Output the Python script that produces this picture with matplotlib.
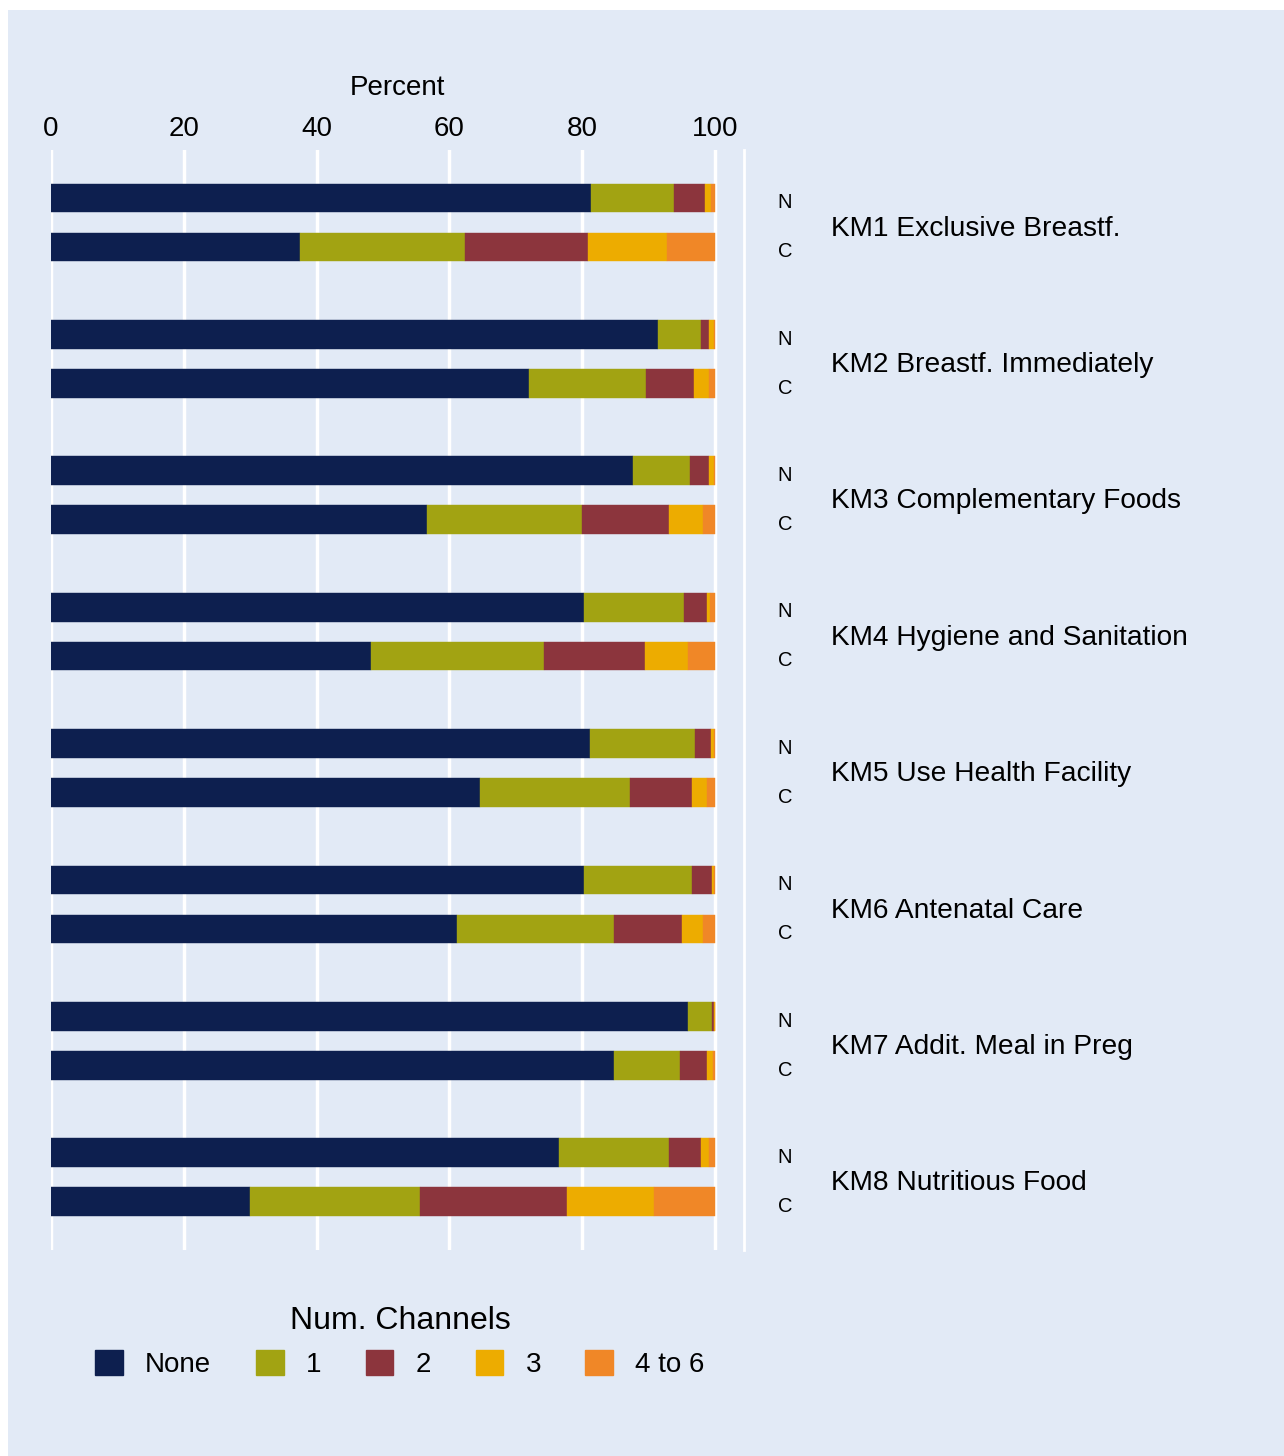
import matplotlib
matplotlib.use("Agg")
import matplotlib.pyplot as plt
from matplotlib.patches import Rectangle, Patch
from matplotlib.transforms import blended_transform_factory

plt.rcParams['font.family'] = ['Liberation Sans', 'DejaVu Sans']

measures = ["KM1 Exclusive Breastf.", "KM2 Breastf. Immediately", "KM3 Complementary Foods",
            "KM4 Hygiene and Sanitation", "KM5 Use Health Facility", "KM6 Antenatal Care",
            "KM7 Addit. Meal in Preg", "KM8 Nutritious Food"]
groups = ["N", "C"]
categories = ["None", "1", "2", "3", "4 to 6"]
colors = ["#0D1F4F", "#A2A312", "#8C353D", "#EDAC00", "#F08727"]

# Percent by number of channels, rows = measures, for N and C
none_N = [81.4, 91.4, 87.65, 80.3, 81.1, 80.3, 95.9, 76.55]
one_N = [12.5, 6.5, 8.55, 15.0, 15.9, 16.2, 3.7, 16.55]
two_N = [4.6, 1.15, 2.85, 3.45, 2.35, 3.0, 0.3, 4.8]
three_N = [0.85, 0.8, 0.8, 0.55, 0.5, 0.4, 0.05, 1.2]
four6_N = [0.65, 0.15, 0.15, 0.7, 0.15, 0.1, 0.05, 0.9]

none_C = [37.5, 72.0, 56.6, 48.2, 64.6, 61.1, 84.8, 30.0]
one_C = [24.8, 17.65, 23.4, 26.1, 22.55, 23.7, 10.0, 25.5]
two_C = [18.6, 7.15, 13.1, 15.1, 9.35, 10.3, 3.95, 22.2]
three_C = [11.9, 2.25, 5.1, 6.5, 2.3, 3.1, 0.9, 13.1]
four6_C = [7.2, 0.95, 1.8, 4.1, 1.2, 1.8, 0.35, 9.2]

xticks = [0, 20, 40, 60, 80, 100]

W, H = 1284, 1456
bg = "#E2EAF6"
fig = plt.figure(figsize=(W / 100, H / 100), dpi=100)
fig.patch.set_facecolor("white")
fig.patches.append(Rectangle((8 / W, 0), 1 - 8 / W, 1 - 10 / H, transform=fig.transFigure,
                             facecolor=bg, edgecolor="none", zorder=-10))

ax = fig.add_axes([51 / W, 1 - 1250 / H, (744 - 51) / W, (1250 - 150) / H])
ax.set_facecolor(bg)

offset = 0.359
height = 0.21
series_N = [none_N, one_N, two_N, three_N, four6_N]
series_C = [none_C, one_C, two_C, three_C, four6_C]
pos_N = [i for i in range(len(measures))]
pos_C = [i + offset for i in range(len(measures))]

for pos, series in [(pos_N, series_N), (pos_C, series_C)]:
    left = [0.0] * len(measures)
    for vals, col in zip(series, colors):
        ax.barh(pos, vals, left=left, height=height, color=col, edgecolor=col,
                linewidth=0.3, zorder=3)
        left = [l + v for l, v in zip(left, vals)]

ax.set_xlim(0, (744 - 51) / 6.64)
ax.set_ylim(7.713, -0.352)
ax.set_xticks(xticks)
ax.set_xticklabels([str(t) for t in xticks], fontsize=20)
ax.xaxis.tick_top()
ax.xaxis.set_label_position("top")
ax.tick_params(axis="x", length=0, pad=5.5)
ax.set_xlabel("Percent", fontsize=20, labelpad=15.5)
ax.set_yticks([])
ax.grid(axis="x", color="white", linewidth=2.5, zorder=1)
for s in ["top", "bottom", "left"]:
    ax.spines[s].set_visible(False)
ax.spines["right"].set_color("white")
ax.spines["right"].set_linewidth(2)

tr = blended_transform_factory(fig.transFigure, ax.transData)
for i, m in enumerate(measures):
    ax.text(785 / W, pos_N[i] + 0.035, groups[0], transform=tr, ha="center", va="center", fontsize=14.5)
    ax.text(785 / W, pos_C[i] + 0.035, groups[1], transform=tr, ha="center", va="center", fontsize=14.5)
    ax.text(831 / W, (pos_N[i] + pos_C[i]) / 2 + 0.045, m, transform=tr, ha="left", va="center",
            fontsize=20.25)

handles = [Patch(facecolor=c, edgecolor=c) for c in colors]
leg = fig.legend(handles, categories, loc="center", bbox_to_anchor=(400 / W, 1 - 1342 / H),
                 ncol=5, frameon=False, fontsize=20, title="Num. Channels",
                 title_fontsize=23, handlelength=1.0, handleheight=1.0,
                 handletextpad=0.8, columnspacing=1.6)

fig.savefig("out.png", dpi=100, facecolor=fig.get_facecolor())
